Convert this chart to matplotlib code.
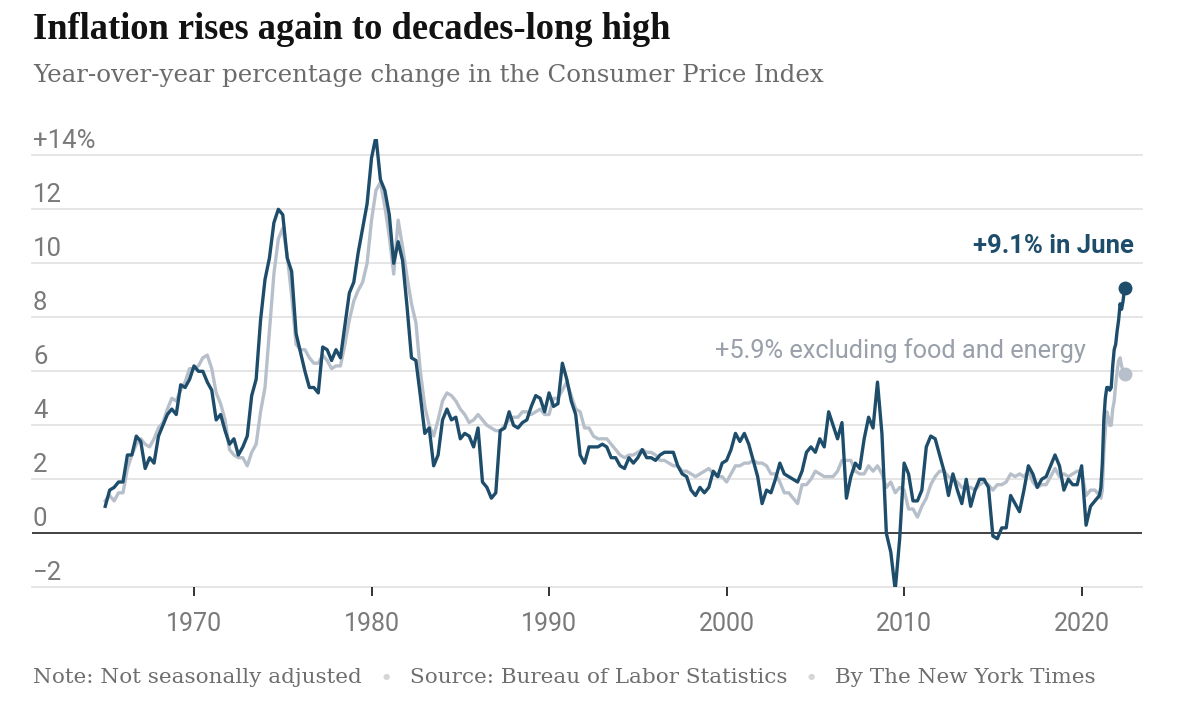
import matplotlib
matplotlib.use("Agg")
import matplotlib.pyplot as plt
import matplotlib.transforms as mtransforms
import numpy as np

# ---------------- data ----------------
first_year = 1965  # quarterly readings (Jan, Apr, Jul, Oct) 1965-2020
headline_quarterly = [
    1.0, 1.6, 1.7, 1.9,   1.9, 2.9, 2.9, 3.6,   3.4, 2.4, 2.8, 2.6,   3.6, 4.0, 4.4, 4.6,
    4.4, 5.5, 5.4, 5.7,   6.2, 6.0, 6.0, 5.6,   5.3, 4.2, 4.4, 3.8,   3.3, 3.5, 2.9, 3.2,
    3.6, 5.1, 5.7, 7.9,   9.4, 10.2, 11.5, 12.0, 11.8, 10.2, 9.7, 7.4, 6.7, 6.0, 5.4, 5.4,
    5.2, 6.9, 6.8, 6.4,   6.8, 6.5, 7.7, 8.9,   9.3, 10.4, 11.3, 12.2, 13.9, 14.7, 13.1, 12.7,
    11.8, 10.0, 10.8, 10.1, 8.4, 6.5, 6.4, 5.1, 3.7, 3.9, 2.5, 2.9,   4.2, 4.6, 4.2, 4.3,
    3.5, 3.7, 3.6, 3.2,   3.9, 1.9, 1.7, 1.3,   1.5, 3.8, 3.9, 4.5,   4.0, 3.9, 4.1, 4.2,
    4.7, 5.1, 5.0, 4.5,   5.2, 4.7, 4.8, 6.3,   5.7, 4.9, 4.4, 2.9,   2.6, 3.2, 3.2, 3.2,
    3.3, 3.2, 2.8, 2.8,   2.5, 2.4, 2.8, 2.6,   2.8, 3.1, 2.8, 2.8,   2.7, 2.9, 3.0, 3.0,
    3.0, 2.5, 2.2, 2.1,   1.6, 1.4, 1.7, 1.5,   1.7, 2.3, 2.1, 2.6,   2.7, 3.1, 3.7, 3.4,
    3.7, 3.3, 2.7, 2.1,   1.1, 1.6, 1.5, 2.0,   2.6, 2.2, 2.1, 2.0,   1.9, 2.3, 3.0, 3.2,
    3.0, 3.5, 3.2, 4.5,   4.0, 3.5, 4.1, 1.3,   2.1, 2.6, 2.4, 3.5,   4.3, 3.9, 5.6, 3.7,
    0.0, -0.7, -2.1, -0.2, 2.6, 2.2, 1.2, 1.2,  1.6, 3.2, 3.6, 3.5,   2.9, 2.3, 1.4, 2.2,
    1.6, 1.1, 2.0, 1.0,   1.6, 2.0, 2.0, 1.7,   -0.1, -0.2, 0.2, 0.2, 1.4, 1.1, 0.8, 1.6,
    2.5, 2.2, 1.7, 2.0,   2.1, 2.5, 2.9, 2.5,   1.6, 2.0, 1.8, 1.8,   2.5, 0.3, 1.0, 1.2,
]
core_quarterly = [
    1.2, 1.4, 1.2, 1.5,   1.5, 2.4, 2.9, 3.3,   3.5, 3.3, 3.2, 3.5,   3.9, 4.1, 4.6, 5.0,
    4.9, 5.3, 5.6, 6.1,   6.1, 6.2, 6.5, 6.6,   6.1, 5.2, 4.8, 4.2,   3.1, 2.9, 2.8, 2.8,
    2.5, 3.0, 3.3, 4.5,   5.4, 7.5, 9.6, 10.9,  11.3, 10.3, 8.8, 7.0,  6.8, 6.8, 6.5, 6.3,
    6.3, 6.6, 6.4, 6.1,   6.2, 6.2, 7.0, 7.9,   8.6, 9.0, 9.3, 10.0,  11.6, 12.7, 13.0, 12.1,
    11.0, 9.6, 11.6, 10.6, 9.5, 8.5, 7.8, 6.0,  4.7, 4.0, 3.6, 4.2,   4.9, 5.2, 5.1, 4.9,
    4.6, 4.4, 4.1, 4.2,   4.4, 4.2, 4.0, 3.9,   3.8, 3.8, 4.0, 4.2,   4.3, 4.3, 4.5, 4.5,
    4.4, 4.5, 4.6, 4.4,   4.4, 5.0, 5.0, 5.3,   5.6, 5.1, 4.6, 4.5,   3.9, 3.9, 3.6, 3.5,
    3.5, 3.5, 3.3, 3.1,   2.9, 2.8, 2.9, 2.9,   3.0, 3.1, 3.0, 3.0,   2.9, 2.7, 2.7, 2.6,
    2.5, 2.5, 2.3, 2.3,   2.2, 2.1, 2.2, 2.3,   2.4, 2.2, 2.1, 2.1,   1.9, 2.2, 2.5, 2.5,
    2.6, 2.6, 2.7, 2.6,   2.6, 2.5, 2.2, 2.2,   1.9, 1.5, 1.5, 1.3,   1.1, 1.8, 1.8, 2.0,
    2.3, 2.2, 2.1, 2.1,   2.1, 2.3, 2.7, 2.7,   2.7, 2.3, 2.2, 2.2,   2.5, 2.3, 2.5, 2.2,
    1.7, 1.9, 1.5, 1.7,   1.6, 0.9, 0.9, 0.6,   1.0, 1.3, 1.8, 2.1,   2.3, 2.3, 2.1, 2.0,
    1.9, 1.7, 1.7, 1.7,   1.6, 1.8, 1.9, 1.8,   1.6, 1.8, 1.8, 1.9,   2.2, 2.1, 2.2, 2.1,
    2.3, 1.9, 1.7, 1.8,   1.8, 2.1, 2.4, 2.1,   2.2, 2.1, 2.2, 2.3,   2.3, 1.4, 1.6, 1.6,
]
recent_year = 2021  # monthly readings Jan 2021 - Jun 2022
headline_recent = [1.4, 1.7, 2.6, 4.2, 5.0, 5.4, 5.4, 5.3, 5.4, 6.2, 6.8, 7.0,
                   7.5, 7.9, 8.5, 8.3, 8.6, 9.1]
core_recent = [1.4, 1.3, 1.6, 3.0, 3.8, 4.5, 4.3, 4.0, 4.0, 4.6, 4.9, 5.5,
               6.0, 6.4, 6.5, 6.2, 6.0, 5.9]

y_ticks = [-2, 0, 2, 4, 6, 8, 10, 12, 14]
y_tick_labels = ["\u22122", "0", "2", "4", "6", "8", "10", "12", "+14%"]
x_ticks = [1970, 1980, 1990, 2000, 2010, 2020]
x_tick_labels = ["1970", "1980", "1990", "2000", "2010", "2020"]

title = "Inflation rises again to decades-long high"
subtitle = "Year-over-year percentage change in the Consumer Price Index"
label_headline = "+9.1% in June"
label_core = "+5.9% excluding food and energy"
footer_parts = ["Note: Not seasonally adjusted",
                "Source: Bureau of Labor Statistics",
                "By The New York Times"]

# ---------------- build series ----------------
q_dates = first_year + np.arange(len(headline_quarterly)) / 4.0
r_dates = recent_year + np.arange(len(headline_recent)) / 12.0
dates = np.concatenate([q_dates, r_dates])
headline = np.concatenate([headline_quarterly, headline_recent])
core = np.concatenate([core_quarterly, core_recent])

DARK = "#1e4d6b"
LIGHT = "#b7c0ca"
GRID = "#e3e3e3"
AXTXT = "#7a7a7a"
SANS = ["Roboto", "DejaVu Sans"]
SERIF = ["DejaVu Serif"]
TITLE_SERIF = ["Liberation Serif", "DejaVu Serif"]

W, H = 1200, 717
fig = plt.figure(figsize=(W / 100, H / 100), dpi=100)
fig.patch.set_facecolor("white")

# axes placement in pixels
ax_left, ax_right = 32, 1142
ax_bottom_px, ax_top_px = 587.3, 139.1
ax = fig.add_axes([ax_left / W, 1 - ax_bottom_px / H,
                   (ax_right - ax_left) / W, (ax_bottom_px - ax_top_px) / H])
ax.set_xlim(1960.875, 2023.40)
ax.set_ylim(-2, 14.6)
for s in ax.spines.values():
    s.set_visible(False)
ax.set_yticks([])

for yv in y_ticks:
    if yv == 0:
        continue
    ax.axhline(yv, color=GRID, lw=1.3, zorder=0, clip_on=False)
ax.axhline(0, color="#333333", lw=1.3, zorder=1)

ax.set_xticks(x_ticks)
ax.set_xticklabels(x_tick_labels)
ax.tick_params(axis="x", direction="out", length=6.5, width=1.4, color="#333333",
               pad=11, labelsize=18, labelcolor=AXTXT)
for lab in ax.get_xticklabels():
    lab.set_family(SANS)

ytrans = mtransforms.offset_copy(ax.get_yaxis_transform(), fig=fig, x=1, y=7, units="dots")
for yv, lab in zip(y_ticks, y_tick_labels):
    ax.text(0, yv, lab, transform=ytrans, ha="left", va="baseline",
            fontsize=18.5, color=AXTXT, family=SANS)

ax.plot(dates, core, color=LIGHT, lw=2.4, solid_joinstyle="round", zorder=2)
ax.plot(dates, headline, color=DARK, lw=2.4, solid_joinstyle="round", zorder=3)
ax.plot(dates[-1:], core[-1:], "o", color=LIGHT, ms=9, zorder=2)
ax.plot(dates[-1:], headline[-1:], "o", color=DARK, ms=9, zorder=4)

t_head = ax.text(2022.95, 10.38, label_headline, ha="right", va="baseline",
                 fontsize=16, fontweight="bold", color=DARK, family=SANS)
t_core = ax.text(2020.24, 6.49, label_core, ha="right", va="baseline",
                 fontsize=16, color="#99a0a9", family=SANS)

t_title = fig.text(33 / W, 1 - 39 / H, title, ha="left", va="baseline",
                   fontsize=26, fontweight="bold", color="#121212", family=TITLE_SERIF)
t_sub = fig.text(33 / W, 1 - 82 / H, subtitle, ha="left", va="baseline",
                 fontsize=18, color="#6b6b6b", family=SERIF)

foot_x = [33, 410, 835]
foot_t = [fig.text(x / W, 1 - 683 / H, t, ha="left", va="baseline", fontsize=14,
                   color="#6e6e6e", family=SERIF) for x, t in zip(foot_x, footer_parts)]
for bx in [386, 811]:
    fig.text(bx / W, 1 - 677 / H, "\u25CF", ha="center", va="center", fontsize=6,
             color="#d6d6d6", family=["DejaVu Sans"])

# fit text widths to reference
fig.canvas.draw()
renderer = fig.canvas.get_renderer()


def fit(t, width):
    bb = t.get_window_extent(renderer)
    t.set_fontsize(t.get_fontsize() * width / bb.width)


fit(t_title, 640)
fit(t_sub, 793)
fit(t_head, 161)
fit(t_core, 372)
bb = foot_t[1].get_window_extent(renderer)
fs = foot_t[1].get_fontsize() * 378 / bb.width
for t in foot_t:
    t.set_fontsize(fs)

fig.savefig("out.png", dpi=100, facecolor="white")
